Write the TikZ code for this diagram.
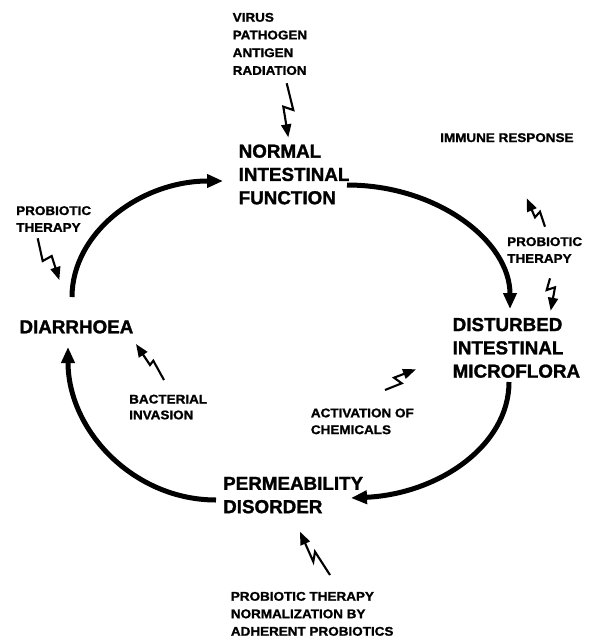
\documentclass[tikz,border=0pt]{standalone}
\usepackage{fontspec}
\setmainfont{Liberation Sans}
\newfontfamily\labfont{Liberation Sans}[FakeStretch=1.07,FakeBold=1.2]
\newfontfamily\bigfont{Liberation Sans}[FakeBold=1.4]
\usetikzlibrary{arrows.meta}
\tikzset{
  small/.style={anchor=north west, inner sep=0pt, align=left,
    font=\labfont\bfseries\fontsize{12.6}{16.8}\selectfont},
  big/.style={anchor=north west, inner sep=0pt, align=left,
    font=\bigfont\bfseries\fontsize{18.8}{23.3}\selectfont},
  cyc/.style={line width=5pt, -{Triangle[length=16pt,width=13pt]}},
  bolt/.style={line width=2.1pt, line join=miter, -{Triangle[length=13pt,width=10pt]}}
}
\begin{document}
\begin{tikzpicture}[x=1pt,y=-1pt]
\useasboundingbox (0,0) rectangle (596,640);
% texts
\node[small, font=\labfont\bfseries\fontsize{12.6}{17.7}\selectfont] (virus) at (232.5,12.7) {VIRUS\\PATHOGEN\\ANTIGEN\\RADIATION};
\node[big] (normal) at (238.5,144.3) {NORMAL\\INTESTINAL\\FUNCTION};
\node[small] (immune) at (440,133) {IMMUNE RESPONSE};
\node[small] (lprob) at (16,206) {PROBIOTIC\\THERAPY};
\node[big] (diarr) at (19.3,320) {DIARRHOEA};
\node[small] (rprob) at (507,237) {PROBIOTIC\\THERAPY};
\node[big] (dist) at (452.5,317.7) {DISTURBED\\INTESTINAL\\MICROFLORA};
\node[small, font=\labfont\bfseries\fontsize{12.6}{15.8}\selectfont] (bact) at (129,394.5) {BACTERIAL\\INVASION};
\node[small] (activ) at (310.7,408.3) {ACTIVATION OF\\CHEMICALS};
\node[big] (perm) at (223,476.7) {PERMEABILITY\\DISORDER};
\node[small, font=\labfont\bfseries\fontsize{12.6}{17.5}\selectfont] (bprob) at (230.7,591.7) {PROBIOTIC THERAPY\\NORMALIZATION BY\\ADHERENT PROBIOTICS};
% cycle coordinates
\coordinate (a1s) at (72,297);   \coordinate (a1e) at (223,181);
\coordinate (a2s) at (347,185);  \coordinate (a2e) at (510,309);
\coordinate (a3s) at (509,382);  \coordinate (a3e) at (351,498);
\coordinate (a4s) at (216,500);  \coordinate (a4e) at (68,347);
\draw[cyc] (a1s) .. controls (72,233) and (140,181) .. (a1e);
\draw[cyc] (a2s) .. controls (437,185) and (510,241) .. (a2e);
\draw[cyc] (a3s) .. controls (509,446) and (438,494) .. (a3e);
\draw[cyc] (a4s) .. controls (134,500) and (68,431) .. (a4e);
% lightning arrows
\coordinate (b1s) at (286.7,83.3); \coordinate (b1e) at (288.3,137.3);
\draw[bolt] (b1s) -- (293.3,110) -- (283.3,106.7) -- (b1e);
\coordinate (b2s) at (37.7,238.3); \coordinate (b2e) at (59.3,280);
\draw[bolt] (b2s) -- (42.7,261) -- (51.7,256) -- (b2e);
\coordinate (b3s) at (545,226.7); \coordinate (b3e) at (526.7,198.3);
\draw[bolt] (b3s) -- (540,211.7) -- (535,217.3) -- (b3e);
\coordinate (b4s) at (550,278.3); \coordinate (b4e) at (550.7,310.7);
\draw[bolt] (b4s) -- (546.7,290) -- (555,287.3) -- (b4e);
\coordinate (b5s) at (164,380); \coordinate (b5e) at (136,344);
\draw[bolt] (b5s) -- (153.3,360.7) -- (150,365) -- (b5e);
\coordinate (b6s) at (385,390); \coordinate (b6e) at (416,369.3);
\draw[bolt] (b6s) -- (401.7,383.3) -- (394,377.7) -- (b6e);
\coordinate (b7s) at (330,575); \coordinate (b7e) at (300,531.7);
\draw[bolt] (b7s) -- (315,551.7) -- (313.3,561.7) -- (b7e);
\end{tikzpicture}
\end{document}
